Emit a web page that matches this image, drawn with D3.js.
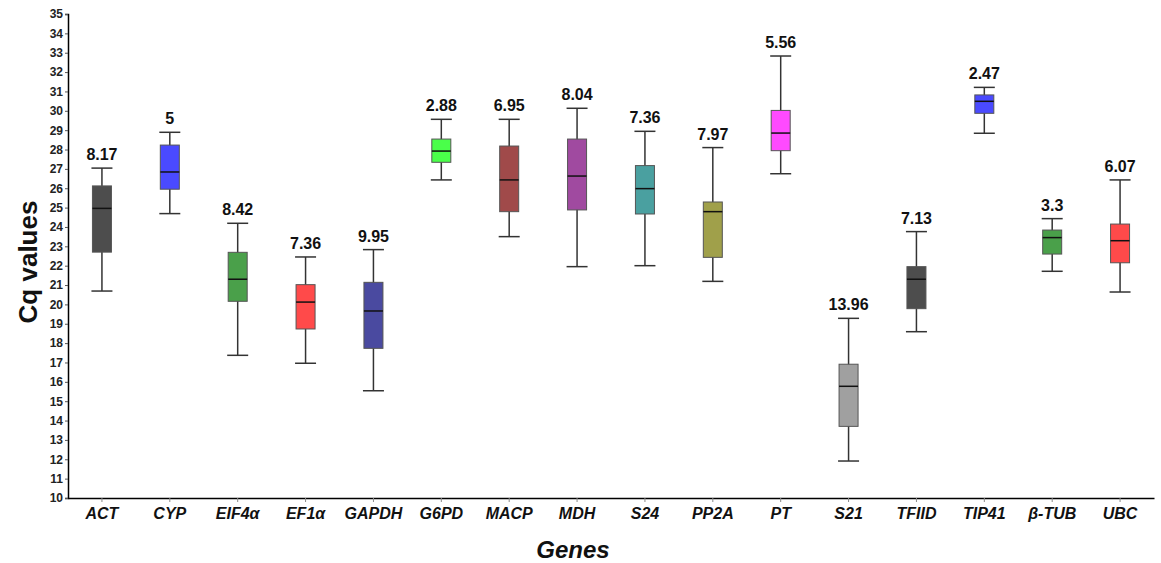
<!DOCTYPE html>
<html><head><meta charset="utf-8">
<script src="https://cdn.jsdelivr.net/npm/d3@7"></script>
<style>body{margin:0;background:#fff;}svg{display:block;font-family:"Liberation Sans",Arial,sans-serif;}</style>
</head><body><svg id="c" width="1161" height="563"></svg>
<script>
const genes = ["ACT","CYP","EIF4α","EF1α","GAPDH","G6PD","MACP","MDH","S24","PP2A","PT","S21","TFIID","TIP41","β-TUB","UBC"];
const mins    = [20.69,24.69,17.37,16.96,15.54,26.43,23.50,21.95,22.00,21.19,26.75,11.91,18.59,28.84,21.71,20.64];
const q1s     = [22.70,25.95,20.16,18.73,17.73,27.34,24.79,24.88,24.67,22.43,27.94,13.70,19.78,29.87,22.60,22.15];
const medians = [24.96,26.84,21.30,20.12,19.66,27.92,26.43,26.63,25.98,24.79,28.85,15.77,21.30,30.49,23.45,23.29];
const q3s     = [26.12,28.23,22.69,21.02,21.14,28.54,28.18,28.54,27.17,25.29,30.02,16.91,21.95,30.82,23.84,24.15];
const maxs    = [27.04,28.89,24.19,22.45,22.83,29.56,29.56,30.13,28.94,28.10,32.83,19.28,23.76,31.21,24.43,26.43];
const cvLabels = ["8.17","5","8.42","7.36","9.95","2.88","6.95","8.04","7.36","7.97","5.56","13.96","7.13","2.47","3.3","6.07"];
const colors = ["#4d4d4d","#4a4aff","#4aa04a","#ff4a4a","#4a4aa0","#4aff4a","#a04a4a","#a04aa0","#4aa0a0","#a0a04a","#ff4aff","#a0a0a0","#4d4d4d","#4a4aff","#4aa04a","#ff4a4a"];
const yTicks = d3.range(10, 36, 1);

(function(){
const svg = d3.select("#c");
const mL = 68, mR = 1154, mT = 14, mB = 498;
const x = d3.scaleBand().domain(genes).range([mL, mR]);
const y = d3.scaleLinear().domain([10, 35]).range([mB, mT]);
const bw = 19;

const data = genes.map((g,i)=>({g, min:mins[i], q1:q1s[i], med:medians[i], q3:q3s[i], max:maxs[i], lab:cvLabels[i], col:colors[i]}));

const yAxis = svg.append("g").attr("transform",`translate(${mL},0)`)
  .call(d3.axisLeft(y).tickValues(yTicks).tickSize(3).tickPadding(2).tickFormat(d3.format("d")));
yAxis.select(".domain").attr("stroke","#000").attr("stroke-width",1.5);
yAxis.selectAll(".tick line").attr("stroke","#555");
yAxis.selectAll("text").attr("font-size",12).attr("font-weight","bold").attr("fill","#222");

const xAxis = svg.append("g").attr("transform",`translate(0,${mB})`)
  .call(d3.axisBottom(x).tickSize(4).tickPadding(6).tickSizeOuter(0));
xAxis.select(".domain").attr("stroke","#000").attr("stroke-width",1.5);
xAxis.selectAll(".tick line").attr("stroke","#888");
xAxis.selectAll("text").attr("font-size",16).attr("font-weight","bold").attr("font-style","italic").attr("fill","#111");

const g = svg.append("g").selectAll("g").data(data).join("g")
  .attr("transform", d=>`translate(${x(d.g)+x.bandwidth()/2},0)`);

g.append("line").attr("y1",d=>y(d.min)).attr("y2",d=>y(d.max)).attr("stroke","#333").attr("stroke-width",1.5);
g.append("line").attr("x1",-bw/2-1).attr("x2",bw/2+1).attr("y1",d=>y(d.max)).attr("y2",d=>y(d.max)).attr("stroke","#333").attr("stroke-width",1.5);
g.append("line").attr("x1",-bw/2-1).attr("x2",bw/2+1).attr("y1",d=>y(d.min)).attr("y2",d=>y(d.min)).attr("stroke","#333").attr("stroke-width",1.5);
g.append("rect").attr("x",-bw/2).attr("width",bw).attr("y",d=>y(d.q3)).attr("height",d=>y(d.q1)-y(d.q3))
  .attr("fill",d=>d.col).attr("stroke","#555").attr("stroke-width",1);
g.append("line").attr("x1",-bw/2).attr("x2",bw/2).attr("y1",d=>y(d.med)).attr("y2",d=>y(d.med)).attr("stroke","#111").attr("stroke-width",1.5);
g.append("text").attr("y",d=>y(d.max)-8).attr("text-anchor","middle").attr("font-size",16).attr("font-weight","bold").attr("fill","#111").text(d=>d.lab);

svg.append("text").attr("transform","translate(37,262) rotate(-90)").attr("text-anchor","middle")
  .attr("font-size",26).attr("font-weight","bold").attr("fill","#111").text("Cq values");
svg.append("text").attr("x",573).attr("y",558).attr("text-anchor","middle")
  .attr("font-size",24).attr("font-weight","bold").attr("font-style","italic").attr("fill","#111").text("Genes");
})();
</script></body></html>
